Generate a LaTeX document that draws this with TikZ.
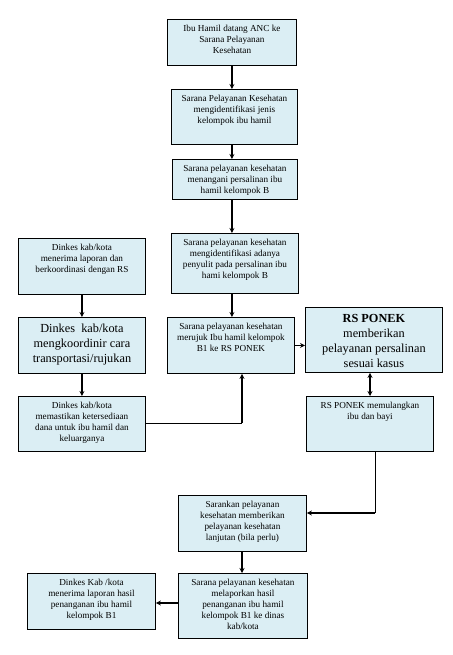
\documentclass[tikz,border=0pt]{standalone}
\usepackage{fontspec}
\setmainfont{Liberation Serif}
\usetikzlibrary{arrows.meta}
\definecolor{boxfill}{RGB}{219,238,244}
\tikzstyle{flowbox}=[draw,fill=boxfill,line width=0.9pt,anchor=north west,inner sep=0pt]
\tikzstyle{flowarrow}=[line width=1.6pt,-{Stealth[length=5pt,width=5pt]}]
\tikzstyle{flowline}=[line width=0.8pt]
\newcommand{\smalltext}[3]{\parbox[t][#2pt][t]{#1pt}{\centering\fontsize{9.2}{11}\selectfont\rule{0pt}{12pt}#3}}
\newcommand{\bigtext}[3]{\parbox[t][#2pt][t]{#1pt}{\centering\fontsize{12.3}{15}\selectfont\rule{0pt}{15pt}#3}}

\begin{document}
\begin{tikzpicture}[x=1pt,y=-1pt]

\useasboundingbox (0,0) rectangle (452,655);

% middle column
\node[flowbox] (anc) at (167,19) {\smalltext{129}{46}{Ibu Hamil datang ANC ke\\Sarana Pelayanan\\Kesehatan}};
\node[flowbox] (identifikasi) at (171,89) {\smalltext{126}{55}{Sarana Pelayanan Kesehatan\\mengidentifikasi jenis\\kelompok ibu hamil}};
\node[flowbox] (tangani) at (172,159) {\smalltext{125}{40}{Sarana pelayanan kesehatan\\menangani persalinan ibu\\hamil kelompok B}};
\node[flowbox] (penyulit) at (171,233) {\smalltext{127}{60}{Sarana pelayanan kesehatan\\mengidentifikasi adanya\\penyulit pada persalinan ibu\\hami kelompok B}};
\node[flowbox] (rujuk) at (167,317) {\smalltext{127}{56}{Sarana pelayanan kesehatan\\merujuk Ibu hamil kelompok\\B1 ke RS PONEK}};

% right column
\node[flowbox] (ponek) at (305,307) {\bigtext{137}{65}{\textbf{RS PONEK}\\memberikan\\pelayanan persalinan\\sesuai kasus}};
\node[flowbox] (pulang) at (306,396) {\smalltext{127}{55}{RS PONEK memulangkan\\ibu dan bayi}};

% lower boxes
\node[flowbox] (lanjutan) at (178,495) {\smalltext{128}{56}{Sarankan pelayanan\\kesehatan memberikan\\pelayanan kesehatan\\lanjutan (bila perlu)}};
\node[flowbox] (lapor) at (178,573) {\smalltext{129}{65}{Sarana pelayanan kesehatan\\melaporkan hasil\\penanganan ibu hamil\\kelompok B1 ke dinas\\kab/kota}};

% left column
\node[flowbox] (dinkesTerima) at (18,238) {\smalltext{127}{56}{Dinkes kab/kota\\menerima laporan dan\\berkoordinasi dengan RS}};
\node[flowbox] (dinkesKoord) at (18,317) {\bigtext{127}{56}{Dinkes\ \ kab/kota\\mengkoordinir cara\\transportasi/rujukan}};
\node[flowbox] (dinkesDana) at (18,396) {\smalltext{127}{55}{Dinkes kab/kota\\memastikan ketersediaan\\dana untuk ibu hamil dan\\keluarganya}};
\node[flowbox] (dinkesHasil) at (27,573) {\smalltext{128}{56}{Dinkes Kab /kota\\menerima laporan hasil\\penanganan ibu hamil\\kelompok B1}};

\coordinate (danaBend) at (242,423);
\coordinate (pulangBend) at (375,513);

% arrows
\draw[flowarrow] (anc.south) -- (anc.south |- identifikasi.north);
\draw[flowarrow] (anc.south |- identifikasi.south) -- (anc.south |- tangani.north);
\draw[flowarrow] (anc.south |- tangani.south) -- (anc.south |- penyulit.north);
\draw[flowarrow] (anc.south |- penyulit.south) -- (anc.south |- rujuk.north);
\draw[flowarrow] (rujuk.east) -- (rujuk.east -| ponek.west);
\draw[flowarrow,{Stealth[length=5pt,width=5pt]}-{Stealth[length=5pt,width=5pt]}] (ponek.south -| 370,0) -- (pulang.north -| 370,0);

\draw[flowarrow] (dinkesTerima.south) -- (dinkesKoord.north);
\draw[flowarrow] (dinkesKoord.south) -- (dinkesDana.north);
\draw[flowline] (dinkesDana.east |- danaBend) -- (danaBend);
\draw[flowarrow] (danaBend) -- (danaBend |- rujuk.south);

\draw[flowline] (pulangBend |- pulang.south) -- (pulangBend);
\draw[flowarrow] (pulangBend) -- (pulangBend -| lanjutan.east);
\draw[flowarrow] (lanjutan.south -| 242,0) -- (lapor.north -| 242,0);
\draw[flowarrow,line width=1.1pt] (lapor.west |- 0,603) -- (dinkesHasil.east |- 0,603);

\end{tikzpicture}
\end{document}
